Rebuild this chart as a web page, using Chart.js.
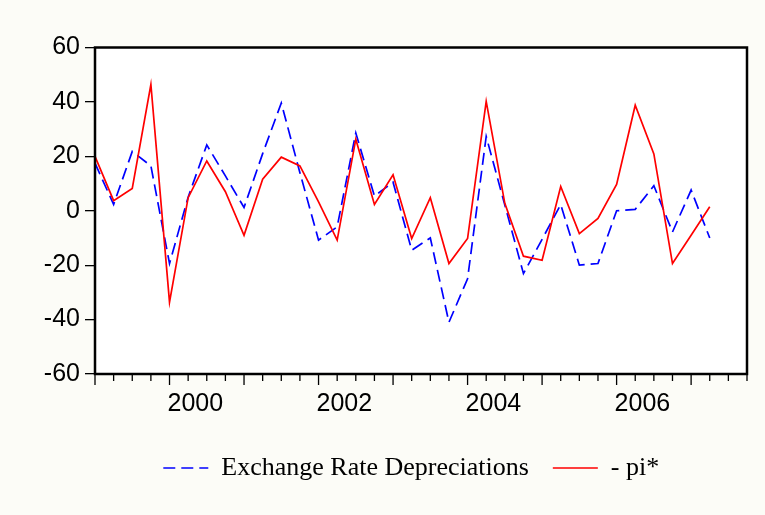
<!DOCTYPE html>
<html>
<head>
<meta charset="utf-8">
<script src="https://cdn.jsdelivr.net/npm/chart.js@4.4.1/dist/chart.umd.min.js"></script>
<style>
  html, body { margin: 0; padding: 0; background: #fcfcf7; }
  #wrap { width: 765px; height: 515px; }
</style>
</head>
<body>
<div id="wrap"><canvas id="c" width="765" height="515"></canvas></div>
<script>
const quarters = [
  '1999Q1','1999Q2','1999Q3','1999Q4','2000Q1','2000Q2','2000Q3','2000Q4',
  '2001Q1','2001Q2','2001Q3','2001Q4','2002Q1','2002Q2','2002Q3','2002Q4',
  '2003Q1','2003Q2','2003Q3','2003Q4','2004Q1','2004Q2','2004Q3','2004Q4',
  '2005Q1','2005Q2','2005Q3','2005Q4','2006Q1','2006Q2','2006Q3','2006Q4',
  '2007Q1','2007Q2','2007Q3','2007Q4'
];
const tickYears = ['2000', '2002', '2004', '2006'];
const exchangeRateDep = [
  17.5, 2.3, 21.8, 16.5, -19.4, 5.0, 24.2, 12.8,
  1.2, 21.0, 39.6, 14.0, -10.8, -5.9, 28.6, 5.4,
  10.5, -14.5, -10.0, -41.0, -25.0, 27.3, 2.1, -23.1,
  -10.5, 2.3, -20.0, -19.4, 0.0, 0.5, 9.2, -7.8,
  7.6, -10.0
];
const negPiStar = [
  20.0, 3.7, 8.2, 46.4, -33.6, 4.8, 18.3, 7.0,
  -9.0, 11.6, 19.7, 16.5, 3.3, -10.8, 26.3, 2.3,
  13.2, -10.2, 4.8, -19.4, -10.2, 40.2, 2.7, -16.7,
  -18.2, 8.9, -8.4, -2.8, 9.7, 38.8, 20.9, -19.4,
  -9.0, 1.5
];
const seriesNames = ['Exchange Rate Depreciations', '- pi*'];

const framePlugin = {
  id: 'frame',
  beforeDraw(chart) {
    const {ctx, chartArea: a} = chart;
    ctx.save();
    ctx.fillStyle = '#ffffff';
    ctx.fillRect(a.left, a.top, a.right - a.left, a.bottom - a.top);
    ctx.restore();
  },
  afterDatasetsDraw(chart) {
    const {ctx, chartArea: a} = chart;
    const xs = chart.scales.x;
    ctx.save();
    ctx.strokeStyle = '#000000';
    ctx.lineWidth = 1.3;
    ctx.beginPath();
    for (let i = 0; i < quarters.length; i++) {
      const px = xs.getPixelForValue(i);
      const len = quarters[i].endsWith('Q1') ? 11 : 7;
      ctx.moveTo(px, a.bottom);
      ctx.lineTo(px, a.bottom + len);
    }
    ctx.stroke();
    ctx.lineWidth = 2.5;
    ctx.strokeRect(a.left, a.top, a.right - a.left, a.bottom - a.top);
    ctx.restore();
  }
};

new Chart(document.getElementById('c'), {
  type: 'line',
  data: {
    labels: quarters,
    datasets: [
      {
        label: seriesNames[0],
        data: exchangeRateDep,
        borderColor: '#0000ff',
        backgroundColor: '#0000ff',
        borderWidth: 1.7,
        borderDash: [12, 6],
        pointRadius: 0,
        tension: 0,
        fill: false,
        order: 1
      },
      {
        label: seriesNames[1] + '\u00a0\u00a0\u00a0',
        data: negPiStar,
        borderColor: '#ff0000',
        backgroundColor: '#ff0000',
        borderWidth: 1.7,
        pointRadius: 0,
        tension: 0,
        fill: false,
        order: 0
      }
    ]
  },
  options: {
    responsive: false,
    animation: false,
    devicePixelRatio: 1,
    layout: { padding: { left: 20, right: 18, top: 47.5, bottom: 24 } },
    plugins: {
      tooltip: { enabled: false },
      legend: {
        position: 'bottom',
        align: 'center',
        fullSize: false,
        labels: {
          usePointStyle: true,
          pointStyle: 'line',
          pointStyleWidth: 45,
          boxHeight: 10,
          padding: 24,
          color: '#000000',
          font: { family: "'Liberation Serif', 'Times New Roman', serif", size: 26 },
          sort: (a, b) => a.datasetIndex - b.datasetIndex,
          generateLabels: (chart) => {
            const items = Chart.defaults.plugins.legend.labels.generateLabels(chart);
            return items.map((it) => {
              const ds = chart.data.datasets[it.datasetIndex];
              it.lineDash = ds.borderDash || [];
              it.lineWidth = ds.borderWidth;
              it.strokeStyle = ds.borderColor;
              it.fillStyle = ds.borderColor;
              it.pointStyle = 'line';
              return it;
            });
          }
        }
      }
    },
    scales: {
      x: {
        type: 'category',
        offset: false,
        grid: { display: false, drawTicks: false },
        border: { display: false },
        ticks: {
          autoSkip: false,
          maxRotation: 0,
          minRotation: 0,
          align: 'start',
          labelOffset: -2,
          padding: 15,
          color: '#000000',
          font: { family: "'Liberation Sans', Arial, sans-serif", size: 25 },
          callback: function (value) {
            const lab = this.getLabelForValue(value);
            const yr = lab.slice(0, 4);
            return (lab.endsWith('Q1') && tickYears.includes(yr)) ? yr : '';
          }
        },
        afterFit: (s) => { s.height = 57; }
      },
      y: {
        min: -60,
        max: 60,
        ticks: {
          stepSize: 20,
          padding: 5,
          color: '#000000',
          font: { family: "'Liberation Sans', Arial, sans-serif", size: 25 }
        },
        grid: {
          drawOnChartArea: false,
          drawTicks: true,
          tickLength: 10,
          color: '#000000',
          lineWidth: 1.3
        },
        border: { display: false },
        afterFit: (s) => { s.width = 75; }
      }
    }
  },
  plugins: [framePlugin]
});
</script>
</body>
</html>
